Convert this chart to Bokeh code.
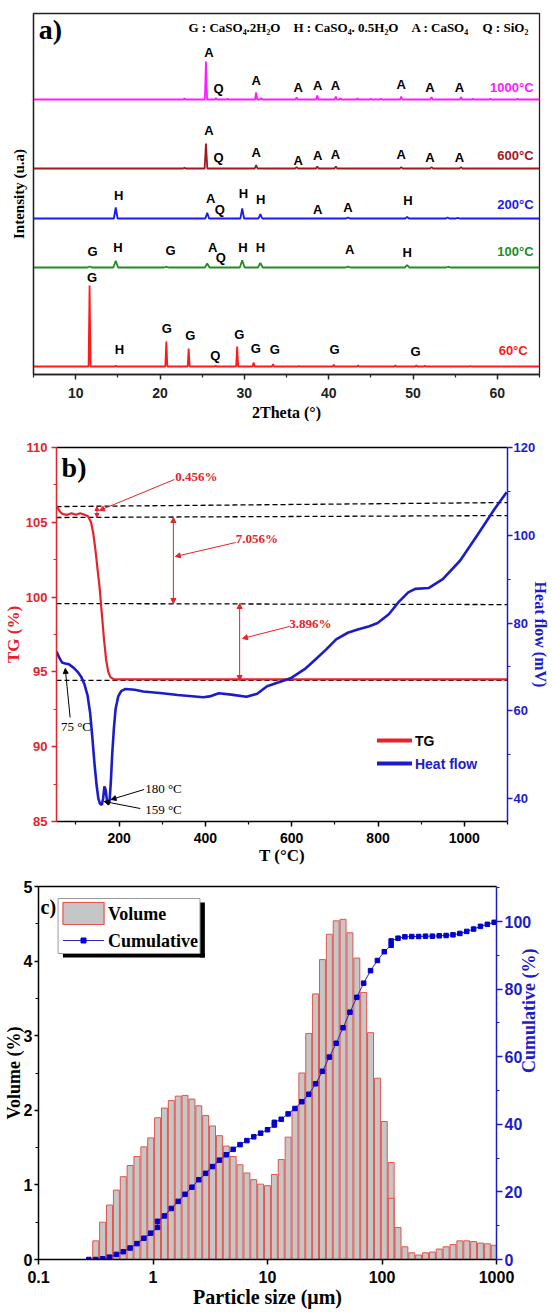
import math
from bokeh.plotting import figure
from bokeh.layouts import column
from bokeh.models import (Range1d, LinearAxis, LogAxis, FixedTicker, Label, Arrow, NormalHead,
                          CustomJSTickFormatter)
from bokeh.core.properties import value
from bokeh.embed import file_html
from bokeh.resources import INLINE

SERIF = "Liberation Serif"
SANS = "Liberation Sans"

# ======================= DATA =======================
# ---- (a) XRD patterns: peak positions (2theta) and heights (a.u.) ----
xrd_temps = ["60°C", "100°C", "200°C", "600°C", "1000°C"]
xrd_offsets = [8, 107, 156, 206, 275]
xrd_colors = ["#FF1A1A", "#238C23", "#1A1AF0", "#A3171D", "#FF1AFF"]
xrd_temp_label_y = [24, 123, 170, 219, 287]
xrd_temp_label_x = [63.6, 64.3, 64.3, 64.3, 64.3]

pk60_pos = [11.65, 14.75, 20.75, 23.4, 26.6, 29.15, 31.1, 33.4, 36.5, 40.6, 43.5, 47.9, 50.4, 51.4, 56.8]
pk60_h = [81, 0.8, 25, 18, 0.8, 20, 4, 2.3, 0.6, 1.7, 1.3, 1.3, 1.3, 0.7, 0.5]
pk100_pos = [11.65, 14.75, 20.75, 25.6, 29.75, 31.9, 42.3, 49.3, 54.2]
pk100_h = [1, 6.7, 0.6, 4, 7.3, 4.7, 0.8, 2.3, 0.6]
pk200_pos = [14.75, 25.6, 29.75, 31.9, 42.3, 49.3, 54.1, 55.3]
pk200_h = [11, 5.7, 10, 4.3, 1, 1.7, 1, 0.7]
pk600_pos = [22.9, 25.45, 31.4, 36.2, 38.65, 40.85, 48.6, 52.2, 55.7]
pk600_h = [0.8, 25, 3.3, 1.5, 2, 2, 1.5, 1.5, 1.5]
pk1000_pos = [22.9, 25.45, 26.65, 28.0, 31.4, 32.0, 36.2, 38.65, 40.85, 41.4, 43.4, 45.0, 46.2,
              48.6, 52.2, 55.7, 57.1, 59.2, 62.4]
pk1000_h = [1, 38, 1.5, 0.6, 7, 1.5, 2, 4, 3, 1, 1, 0.7, 0.7, 3, 2.5, 2.5, 0.7, 0.7, 0.7]
pk_halfwidth = [0.12, 0.28, 0.22, 0.16, 0.13]

lab60_txt = ["G", "H", "G", "G", "Q", "G", "G", "G", "G", "G"]
lab60_x = [11.95, 15.2, 20.8, 23.6, 26.55, 29.4, 31.35, 33.6, 40.7, 50.3]
lab60_y = [97, 25, 46, 39, 19, 40, 26, 25, 25, 23]
lab100_txt = ["G", "H", "G", "A", "Q", "H", "H", "A", "H"]
lab100_x = [12.0, 15.0, 21.25, 26.25, 27.2, 29.85, 31.9, 42.5, 49.3]
lab100_y = [123, 127, 124, 127, 117, 127, 127, 125, 122]
lab200_txt = ["H", "A", "Q", "H", "H", "A", "A", "H"]
lab200_x = [15.1, 26.0, 27.1, 29.9, 31.95, 38.7, 42.3, 49.4]
lab200_y = [179, 176, 165, 181, 175, 165, 167, 174]
lab600_txt = ["A", "Q", "A", "A", "A", "A", "A", "A", "A"]
lab600_x = [25.8, 26.95, 31.4, 36.4, 38.7, 40.8, 48.6, 52.0, 55.5]
lab600_y = [244, 217, 222, 214, 219, 220, 220, 217, 217]
lab1000_txt = ["A", "Q", "A", "A", "A", "A", "A", "A", "A"]
lab1000_x = [25.8, 26.95, 31.4, 36.4, 38.7, 40.8, 48.6, 52.0, 55.5]
lab1000_y = [322, 286, 294, 287, 289, 289, 290, 287, 287]

phase_legend = ["G : CaSO\u2084.2H\u2082O", "H : CaSO\u2084. 0.5H\u2082O", "A : CaSO\u2084", "Q : SiO\u2082"]
xrd_ticks = [10, 20, 30, 40, 50, 60]

# ---- (b) TG / heat flow ----
tg_T = [55, 60, 65, 70, 80, 90, 100, 110, 120, 128, 135, 140, 145, 150, 155, 160, 165, 170, 175,
        180, 188, 200, 400, 600, 800, 1000, 1100]
tg_pct = [106.1, 105.85, 105.65, 105.55, 105.5, 105.6, 105.5, 105.6, 105.5, 105.4, 105.0, 104.3,
          103.2, 101.9, 100.6, 98.9, 97.2, 95.8, 95.0, 94.65, 94.5, 94.5, 94.5, 94.5, 94.5, 94.5, 94.5]
hf_T = [55, 62, 68, 75, 84, 95, 104, 112, 120, 127, 133, 138, 143, 148, 152, 156, 160, 163, 166, 169,
        172, 175, 178, 181, 184, 188, 192, 198, 205, 215, 236, 256, 300, 336, 395, 410, 431, 460, 495, 520,
        543, 570, 599, 630, 655, 680, 703, 730, 751, 780, 799, 825, 847, 870, 886, 918, 950, 990, 1030, 1070,
        1098]
hf_mV = [73.5, 72.0, 71.0, 70.8, 70.6, 69.8, 68.9, 67.8, 66.0, 63.5, 59.5, 54.0, 48.0, 43.0, 40.0, 38.8,
         38.6, 40.0, 42.8, 42.0, 39.5, 38.7, 39.5, 44.0, 50.0, 56.0, 60.5, 63.3, 64.5, 65.0, 64.8, 64.4,
         64.0, 63.6, 63.1, 63.3, 64.0, 63.7, 63.2, 63.9, 65.6, 66.5, 67.5, 69.5, 71.7, 74.0, 76.3, 77.8,
         78.5, 79.3, 80.0, 82.0, 84.7, 87.0, 87.8, 88.0, 90.0, 94.2, 100.0, 106.0, 109.8]
step_levels_left = [106.05, 105.32, 99.57, 94.43]
step_levels_right = [106.32, 105.45, 99.5, 94.43]
mass_losses = ["0.456%", "7.056%", "3.896%"]
peak_temps = ["75 °C", "180 °C", "159 °C"]

# ---- (c) particle size distribution ----
psd_size = [0.316, 0.363, 0.417, 0.479, 0.550, 0.631, 0.724, 0.832, 0.955, 1.096, 1.259, 1.445, 1.660,
            1.905, 2.188, 2.512, 2.884, 3.311, 3.802, 4.365, 5.012, 5.754, 6.607, 7.586, 8.710, 10.00,
            11.48, 13.18, 15.14, 17.38, 19.95, 22.91, 26.30, 30.20, 34.67, 39.81, 45.71, 52.48, 60.26,
            69.18, 79.43, 91.20, 104.7, 120.2, 138.0, 158.5, 182.0, 208.9, 239.9, 275.4, 316.2, 363.1,
            416.9, 478.6, 549.5, 631.0, 724.4, 831.8, 955.0]
psd_volume = [0.25, 0.50, 0.73, 0.93, 1.11, 1.26, 1.38, 1.51, 1.63, 1.90, 2.03, 2.13, 2.19, 2.20, 2.15,
              2.06, 1.93, 1.79, 1.66, 1.52, 1.38, 1.27, 1.16, 1.07, 1.01, 0.99, 1.14, 1.34, 1.64, 2.00,
              2.50, 3.03, 3.56, 4.02, 4.36, 4.54, 4.56, 4.38, 4.04, 3.58, 3.04, 2.43, 1.85, 1.30, 0.43,
              0.17, 0.09, 0.06, 0.09, 0.10, 0.14, 0.17, 0.20, 0.25, 0.25, 0.24, 0.22, 0.21, 0.19]
psd_overlap_size = [120.2]
psd_overlap_volume = [0.82]
cum_size = [0.275, 0.316, 0.363, 0.417, 0.479, 0.550, 0.631, 0.724, 0.832, 0.955, 1.096, 1.096, 1.259,
            1.445, 1.660, 1.905, 2.188, 2.512, 2.884, 3.311, 3.802, 4.365, 5.012, 5.754, 6.607, 7.586,
            8.710, 10.00, 11.48, 11.48, 13.18, 15.14, 17.38, 19.95, 22.91, 26.30, 30.20, 34.67, 39.81,
            45.71, 52.48, 60.26, 69.18, 79.43, 91.20, 104.7, 120.2, 120.2, 138.0, 158.5, 182.0, 208.9,
            239.9, 275.4, 316.2, 363.1, 416.9, 478.6, 549.5, 631.0, 724.4, 831.8, 955.0]
cum_pct = [0, 0, 0.2, 0.7, 1.5, 2.3, 3.4, 4.7, 6.3, 7.8, 9.5, 11.3, 12.9, 15.1, 17.2, 19.3, 21.4, 23.6,
           25.5, 27.5, 29.4, 31.0, 32.6, 34.0, 35.2, 36.3, 37.4, 38.4, 39.8, 40.6, 41.5, 43.1, 44.7, 46.7,
           48.9, 52.0, 55.7, 59.9, 64.0, 68.6, 73.2, 77.6, 81.8, 85.5, 88.5, 91.1, 93.0, 94.3, 95.1, 95.5,
           95.6, 95.6, 95.7, 95.7, 95.8, 95.9, 96.1, 96.5, 97.1, 97.8, 98.6, 99.2, 99.8]

# ======================= HELPERS =======================
def style_axis(ax, color, size, ticks, minor, tick_out=5, minor_out=3, standoff=6):
    ax.ticker = FixedTicker(ticks=ticks, minor_ticks=minor)
    ax.axis_line_color = color
    ax.axis_line_width = 1.5
    ax.major_tick_line_color = color
    ax.minor_tick_line_color = color
    ax.major_tick_line_width = 1.5
    ax.minor_tick_line_width = 1.2
    ax.major_tick_out = tick_out
    ax.major_tick_in = 0
    ax.minor_tick_out = minor_out
    ax.minor_tick_in = 0
    ax.major_label_text_color = color
    ax.major_label_text_font = SANS
    ax.major_label_text_font_style = "bold"
    ax.major_label_text_font_size = size
    ax.major_label_standoff = standoff


def axis_title(ax, text, size, color="black", standoff=0, upward=False):
    ax.axis_label = text
    ax.axis_label_text_font = SERIF
    ax.axis_label_text_font_style = "bold"
    ax.axis_label_text_font_size = size
    ax.axis_label_text_color = color
    ax.axis_label_standoff = standoff
    if upward:
        try:
            ax.axis_label_orientation = math.pi / 2
        except Exception:
            pass


def blank_top(p, log=False):
    ax = (LogAxis if log else LinearAxis)(ticker=FixedTicker(ticks=[]))
    ax.axis_line_color = "black"
    ax.axis_line_width = 1.5
    ax.major_label_text_font_size = "0px"
    ax.major_label_standoff = 0
    p.add_layout(ax, "above")


def lab(p, x, y, text, font=SERIF, size="13px", color="black", style="bold",
        align="center", baseline="middle", angle=0.0):
    p.add_layout(Label(x=x, y=y, text=text, text_font=font, text_font_size=size,
                       text_color=color, text_font_style=style, text_align=align,
                       text_baseline=baseline, angle=angle))


def new_fig(h, xr, yr, bl, br, bt, bb, xtype="linear"):
    p = figure(width=552, height=h, x_range=xr, y_range=yr, x_axis_type=xtype,
               output_backend="svg", toolbar_location=None, title=None,
               min_border_left=bl, min_border_right=br, min_border_top=bt, min_border_bottom=bb)
    try:
        p.frame_align = False
    except Exception:
        pass
    p.xgrid.visible = False
    p.ygrid.visible = False
    p.background_fill_color = "white"
    p.border_fill_color = "white"
    return p

# ======================= PANEL A =======================
pa = new_fig(430, Range1d(5, 65), Range1d(0, 361), 33, 13, 13, 56)
pa.outline_line_color = "#222222"
pa.outline_line_width = 1.3
ax_px = lambda px: 5 + (px - 33) * 60 / 506
ay_px = lambda py: 374 - py

style_axis(pa.xaxis[0], "#222222", "14px", xrd_ticks, [5, 15, 25, 35, 45, 55, 65],
           tick_out=5, minor_out=3, standoff=8)
axis_title(pa.xaxis[0], "2Theta (°)", "16px", standoff=3)
pa.yaxis[0].ticker = FixedTicker(ticks=[])
pa.yaxis[0].axis_line_color = "#222222"
pa.yaxis[0].axis_line_width = 1.3
pa.yaxis[0].major_label_text_font_size = "0px"
pa.yaxis[0].major_label_standoff = 0
axis_title(pa.yaxis[0], "Intensity (u.a)", "15px", standoff=7)

all_pos = [pk60_pos, pk100_pos, pk200_pos, pk600_pos, pk1000_pos]
all_h = [pk60_h, pk100_h, pk200_h, pk600_h, pk1000_h]
for pos, hgt, hw, off, col in zip(all_pos, all_h, pk_halfwidth, xrd_offsets, xrd_colors):
    xs, ys = [5.0], [off]
    for pp, hh in sorted(zip(pos, hgt)):
        xs += [pp - hw, pp, pp + hw]
        ys += [off, off + hh, off]
    xs.append(65.0)
    ys.append(off)
    pa.line(xs, ys, line_color=col, line_width=1.8)

all_txt = [lab60_txt, lab100_txt, lab200_txt, lab600_txt, lab1000_txt]
all_lx = [lab60_x, lab100_x, lab200_x, lab600_x, lab1000_x]
all_ly = [lab60_y, lab100_y, lab200_y, lab600_y, lab1000_y]
tx, ty, tt = [], [], []
for a, b, c in zip(all_lx, all_ly, all_txt):
    tx += a; ty += b; tt += c
pa.text(x=tx, y=ty, text=tt, text_font=value(SANS), text_font_style="bold",
        text_font_size="13px", text_color="black", text_align="center", text_baseline="middle")
pa.text(x=xrd_temp_label_x, y=xrd_temp_label_y, text=xrd_temps, text_color=xrd_colors,
        text_font=value(SANS), text_font_style="bold", text_font_size="13px",
        text_align="right", text_baseline="middle")

for txt, px in zip(phase_legend, [188, 293, 411, 482]):
    lab(pa, ax_px(px), ay_px(27), txt, size="13px", align="left")
lab(pa, ax_px(50), ay_px(29), "a)", size="28px")

# ======================= PANEL B =======================
RED = "#E3242B"
BLUE = "#1C1CC8"
pb = new_fig(445, Range1d(55, 1100), Range1d(85, 110), 50, 39, 17, 54)
pb.outline_line_color = None
pb.extra_y_ranges = {"hf": Range1d(34.8, 120)}
bx = lambda px: 55 + (px - 50) * 1045 / 463
by = lambda py: 110 - (py - 447) * 25 / 374

style_axis(pb.xaxis[0], "black", "14px", [200, 400, 600, 800, 1000], [100, 300, 500, 700, 900, 1100],
           tick_out=5, minor_out=3, standoff=6)
axis_title(pb.xaxis[0], "T (°C)", "17px", standoff=0)
style_axis(pb.yaxis[0], RED, "13px", [85, 90, 95, 100, 105, 110],
           [87.5, 92.5, 97.5, 102.5, 107.5], tick_out=5, minor_out=3, standoff=4)
axis_title(pb.yaxis[0], "TG (%)", "17px", color=RED, standoff=0)
rax = LinearAxis(y_range_name="hf")
style_axis(rax, BLUE, "13px", [40, 60, 80, 100, 120], [50, 70, 90, 110], tick_out=5, minor_out=3,
           standoff=1)
axis_title(rax, "Heat flow (mV)", "16px", color=BLUE, standoff=-6)
pb.add_layout(rax, "right")
blank_top(pb)

# dashed step levels
pb.segment(x0=[55] * 4, y0=step_levels_left, x1=[1100] * 4, y1=step_levels_right,
           line_color="black", line_width=1.3, line_dash="5 3")

pb.line(tg_T, tg_pct, line_color=RED, line_width=2.2)
pb.line(hf_T, hf_mV, line_color=BLUE, line_width=2.6, y_range_name="hf")


def arrow(p, x0, y0, x1, y1, color, double=False, size=5):
    head = lambda: NormalHead(size=size, fill_color=color, line_color=color, line_width=1)
    p.add_layout(Arrow(x_start=x0, y_start=y0, x_end=x1, y_end=y1, line_color=color, line_width=1,
                       end=head(), start=head() if double else None))


# mass-loss double arrows and leaders
arrow(pb, bx(91.5), step_levels_left[0], bx(91.5), step_levels_left[1], RED, True, 4)
arrow(pb, bx(171), by(479), bx(94), by(510), RED)
lab(pb, bx(172), by(476), mass_losses[0], color=RED, align="left")
arrow(pb, bx(170), step_levels_left[1], bx(170), step_levels_left[2], RED, True)
arrow(pb, bx(234), by(542), bx(172), by(556), RED)
lab(pb, bx(234), by(538), mass_losses[1], color=RED, align="left")
arrow(pb, bx(238), step_levels_left[2], bx(238), step_levels_left[3], RED, True)
arrow(pb, bx(289), by(626), bx(241), by(638), RED)
lab(pb, bx(289), by(623), mass_losses[2], color=RED, align="left")

# temperature annotations
lab(pb, bx(70), by(726), peak_temps[0], style="normal", size="13px")
arrow(pb, bx(64), by(717), bx(59), by(668), "black")
lab(pb, bx(141), by(788), peak_temps[1], style="normal", size="13px", align="left")
arrow(pb, bx(140), by(789), bx(106), by(799), "black")
lab(pb, bx(141), by(809), peak_temps[2], style="normal", size="13px", align="left")
arrow(pb, bx(136), by(808), bx(99), by(801), "black")

# legend
pb.line([bx(379), bx(415)], [by(740)] * 2, line_color=RED, line_width=4)
pb.line([bx(379), bx(415)], [by(763)] * 2, line_color=BLUE, line_width=4)
lab(pb, bx(418), by(740), "TG", font=SANS, size="14px", align="left")
lab(pb, bx(418), by(763), "Heat flow", font=SANS, size="14px", color=BLUE, align="left")

lab(pb, bx(68), by(467), "b)", size="28px")

# ======================= PANEL C =======================
pc = new_fig(437, Range1d(0.1, 1000), Range1d(0, 5), 35, 49, 11, 53, xtype="log")
pc.outline_line_color = None
pc.extra_y_ranges = {"cum": Range1d(0, 110.4)}
cx = lambda px: 10 ** (-1 + (px - 35) / 117)
cy = lambda py: (1259 - py) * 5 / 373

style_axis(pc.xaxis[0], "black", "16px", [0.1, 1, 10, 100, 1000], [], tick_out=5, standoff=6)
pc.xaxis[0].formatter = CustomJSTickFormatter(code="return tick.toString();")
axis_title(pc.xaxis[0], "Particle size (\u03bcm)", "20px", standoff=0)
style_axis(pc.yaxis[0], "black", "16px", [0, 1, 2, 3, 4, 5], [0.5, 1.5, 2.5, 3.5, 4.5],
           tick_out=4, minor_out=3, standoff=2)
axis_title(pc.yaxis[0], "Volume (%)", "18px", standoff=-3)
rcax = LinearAxis(y_range_name="cum")
style_axis(rcax, BLUE, "16px", [0, 20, 40, 60, 80, 100], [10, 30, 50, 70, 90, 110],
           tick_out=6, minor_out=3, standoff=2)
axis_title(rcax, "Cumulative (%)", "18px", color=BLUE, standoff=-5, upward=True)
pc.add_layout(rcax, "right")
blank_top(pc, log=True)

half = 10 ** 0.026
pc.quad(left=[s / half for s in psd_size], right=[s * half for s in psd_size], bottom=0,
        top=psd_volume, fill_color="#C6C6C6", line_color="#E5534B", line_width=1)
pc.quad(left=[s / half for s in psd_overlap_size], right=[s * half for s in psd_overlap_size],
        bottom=0, top=psd_overlap_volume, fill_color=None, line_color="#E5534B", line_width=1)
pc.line(cum_size, cum_pct, line_color="#2B2BB8", line_width=1, y_range_name="cum")
pc.scatter(cum_size, cum_pct, marker="square", size=4.5, fill_color="#0000CC", line_color="#0000CC",
           y_range_name="cum")

# legend box with shadow
pc.quad(left=[cx(200)], right=[cx(205)], bottom=[cy(957)], top=[cy(902)], fill_color="black",
        line_color=None)
pc.quad(left=[cx(60)], right=[cx(205)], bottom=[cy(957)], top=[cy(953)], fill_color="black",
        line_color=None)
pc.quad(left=[cx(55)], right=[cx(200)], bottom=[cy(953)], top=[cy(898)], fill_color="white",
        line_color="#9A9A9A", line_width=1)
pc.quad(left=[cx(60)], right=[cx(102)], bottom=[cy(924)], top=[cy(902)], fill_color="#C6C6C6",
        line_color="#E5534B", line_width=1.2)
pc.line([cx(60), cx(102)], [cy(940)] * 2, line_color="#2B2BB8", line_width=1.2)
pc.scatter([cx(81)], [cy(940)], marker="square", size=5, fill_color="#0000CC", line_color="#0000CC")
lab(pc, cx(106), cy(913), "Volume", size="18px", align="left")
lab(pc, cx(106), cy(940), "Cumulative", size="18px", align="left")

lab(pc, cx(45), cy(906), "c)", size="20px")

layout = column(pa, pb, pc, spacing=0)
open("out.html", "w").write(file_html(layout, INLINE))
